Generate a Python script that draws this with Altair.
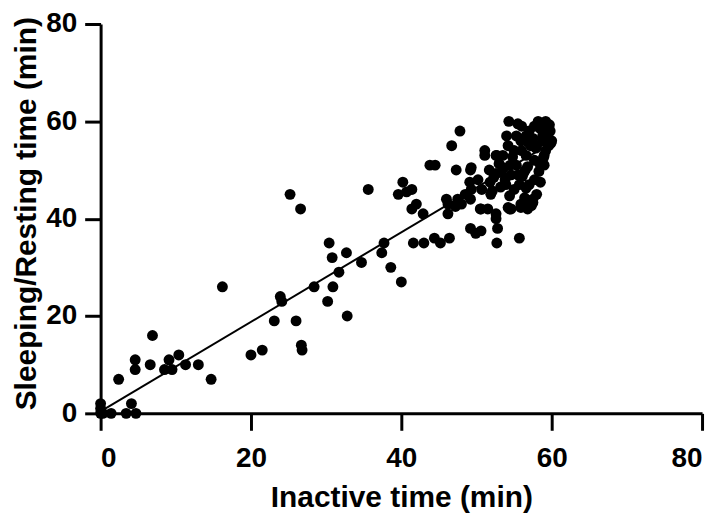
import altair as alt
import pandas as pd

# Inactive time (min) for each animal/observation
inactive = [
    0.0, 0.0, 0.0, 0.3, 1.4, 3.4, 4.7, 4.1, 2.4, 4.6, 4.6, 6.9, 6.6, 8.5, 9.1, 9.5, 10.4, 11.3, 13.0, 14.7,
    16.2, 20.0, 21.5, 23.1, 23.9, 24.1, 25.2, 26.6, 26.0, 26.7, 26.8, 28.4, 30.2, 30.9, 32.8, 31.7, 30.4, 30.8, 32.7, 34.7,
    35.6, 37.7, 37.4, 38.6, 40.0,
    40.2, 39.6, 40.7, 41.4, 41.4, 42.0, 42.9, 41.6, 43.0, 44.4, 45.2, 46.4, 43.8, 44.5, 46.0, 46.2, 46.2, 47.2, 48.0, 46.7,
    47.8, 47.3, 49.2, 49.1, 49.3, 49.2, 49.3, 50.7, 51.9, 50.5, 51.5, 52.6, 52.6, 52.8, 49.2, 49.9, 50.6, 52.7, 51.1, 51.1,
    52.7, 51.7, 53.3, 50.6,
    54.3, 59.2, 57.7, 59.3, 55.3, 56.6, 58.8, 59.9, 54.2, 57.2, 55.9, 59.2, 52.6, 54.8, 56.6, 57.7, 53.0, 55.3, 56.8, 58.3,
    52.6, 54.6, 56.1, 57.7, 53.9, 55.7, 56.6, 54.4, 56.4, 54.2, 55.9, 57.3, 52.1, 55.7, 58.5, 59.0, 58.0, 57.0, 56.0, 55.0,
    58.0, 57.5, 56.5, 54.5, 55.5, 53.5, 58.8, 59.5, 56.0, 55.5, 58.5, 57.5, 56.8, 54.0, 53.8, 55.0, 57.0, 58.5, 59.0, 59.8,
    60.0, 59.7, 58.2, 54.6, 56.8, 57.5, 55.9, 57.2, 54.4, 53.2, 51.8, 48.5, 47.5, 50.2, 52.3, 53.6, 58.9, 59.6, 57.9, 56.3,
]

# Sleeping/Resting time (min)
sleeping = [
    0.0, 1.0, 2.0, 0.0, 0.0, 0.0, 0.0, 2.0, 7.0, 11.0, 9.0, 16.0, 10.0, 9.0, 11.0, 9.0, 12.0, 10.0, 10.0, 7.0,
    26.0, 12.0, 13.0, 19.0, 24.0, 23.0, 45.0, 42.0, 19.0, 14.0, 13.0, 26.0, 23.0, 26.0, 20.0, 29.0, 35.0, 32.0, 33.0, 31.0,
    46.0, 35.0, 33.0, 30.0, 27.0,
    47.5, 45.0, 45.5, 46.0, 42.0, 43.0, 41.0, 35.0, 35.0, 36.0, 35.0, 36.0, 51.0, 51.0, 44.0, 43.0, 41.0, 42.5, 43.0, 55.0,
    58.0, 50.0, 50.0, 47.5, 46.0, 44.0, 50.5, 46.0, 45.0, 42.0, 42.0, 41.0, 40.0, 38.0, 38.0, 37.0, 37.5, 35.0, 54.0, 53.0,
    53.0, 50.0, 49.5, 42.0,
    60.0, 60.0, 59.0, 59.0, 57.0, 57.0, 57.0, 55.5, 55.0, 55.0, 56.0, 54.0, 53.0, 52.7, 53.0, 52.0, 51.3, 51.0, 50.7, 49.7,
    49.3, 49.0, 48.7, 48.0, 47.0, 47.0, 46.3, 44.7, 44.3, 42.3, 42.3, 42.7, 45.7, 36.0, 51.0, 53.0, 55.0, 58.0, 54.0, 54.0,
    45.0, 44.0, 50.0, 51.0, 49.0, 53.0, 56.0, 57.5, 59.0, 59.5, 58.5, 56.5, 55.8, 57.0, 48.0, 46.0, 47.0, 47.5, 51.0, 58.0,
    56.0, 59.3, 60.0, 42.0, 42.0, 43.3, 43.0, 43.0, 42.0, 46.5, 47.5, 45.0, 44.0, 48.0, 48.5, 50.5, 52.5, 55.0, 54.5, 49.5,
]

# Fitted regression line
fit_x = [0, 60]
fit_y = [0.4, 55.6]

tick_values = [0, 20, 40, 60, 80]

pts = pd.DataFrame({"inactive": inactive, "sleeping": sleeping})
fit = pd.DataFrame({"inactive": fit_x, "sleeping": fit_y})

xscale = alt.Scale(domain=[0, 80], nice=False, zero=False)
yscale = alt.Scale(domain=[0, 80], nice=False, zero=False)

xaxis = alt.Axis(title="Inactive time (min)", values=tick_values, tickSize=17,
                 labelPadding=14, titlePadding=11)
yaxis = alt.Axis(title="Sleeping/Resting time (min)", values=tick_values, tickSize=16,
                 labelPadding=8, titleX=-59, titleY=190, titleBaseline="bottom",
                 titleAngle=270, titleAlign="center")

line = alt.Chart(fit).mark_line(color="black", strokeWidth=2).encode(
    x=alt.X("inactive:Q", scale=xscale, axis=xaxis),
    y=alt.Y("sleeping:Q", scale=yscale, axis=yaxis),
)

points = alt.Chart(pts).mark_circle(size=120, color="black", opacity=1).encode(
    x=alt.X("inactive:Q", scale=xscale, axis=xaxis),
    y=alt.Y("sleeping:Q", scale=yscale, axis=yaxis),
)

chart = (
    alt.layer(line, points)
    .properties(
        width=604,
        height=391,
        padding={"left": 93, "top": 15, "right": 10, "bottom": 100},
        autosize=alt.AutoSizeParams(type="none"),
    )
    .configure_view(stroke=None)
    .configure_axis(
        grid=False,
        domainColor="black",
        domainWidth=3,
        tickColor="black",
        tickWidth=3,
        labelFont="Liberation Sans",
        labelFontWeight="bold",
        labelFontSize=28,
        labelColor="black",
        titleFont="Liberation Sans",
        titleFontWeight="bold",
        titleFontSize=30,
        titleColor="black",
    )
)

chart.save("out.html", embed_options={"renderer": "svg", "actions": False})
